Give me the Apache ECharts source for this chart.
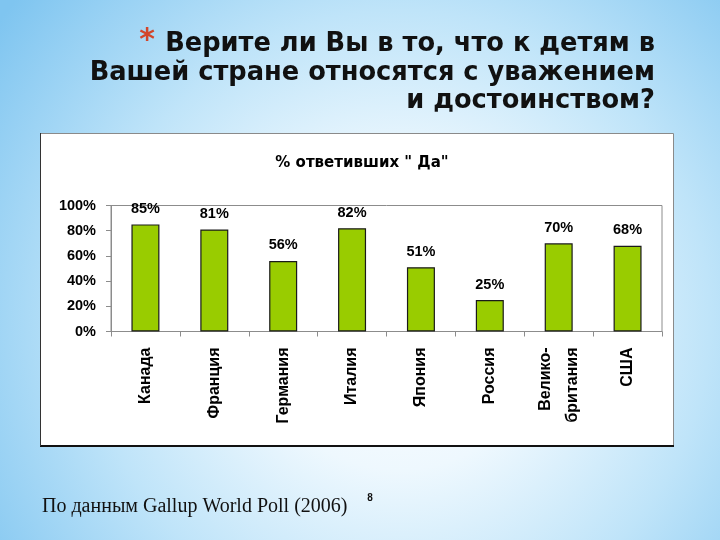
<!DOCTYPE html>
<html>
<head>
<meta charset="utf-8">
<script src="https://cdn.jsdelivr.net/npm/echarts@6/dist/echarts.min.js"></script>
<style>
html,body{margin:0;padding:0;background:#ffffff;}
#chart{width:720px;height:540px;}
</style>
</head>
<body>
<div id="chart"></div>
<script>
// ---- data ----
const categories = ['Канада', 'Франция', 'Германия', 'Италия', 'Япония', 'Россия', 'Велико-\nбритания', 'США'];
const values = [85, 81, 56, 82, 51, 25, 70, 68];
const yMin = 0;
const yMax = 100;
const yStep = 20;
const chartTitle = '% ответивших " Да"';
const pageTitle = 'Верите ли Вы в то, что к детям в\nВашей стране относятся с уважением\nи достоинством?';
const footerText = 'По данным Gallup World Poll (2006)';
const slideNumber = '8';

const chart = echarts.init(document.getElementById('chart'), null, {renderer: 'canvas'});

const option = {
  animation: false,
  backgroundColor: 'transparent',
  graphic: {
    elements: [
      {
        type: 'rect', z: -100, silent: true,
        shape: {x: 0, y: 0, width: 720, height: 540},
        style: {
          fill: new echarts.graphic.RadialGradient(400, 320, 500, [
            {offset: 0, color: '#ffffff'},
            {offset: 0.3, color: '#eef8fe'},
            {offset: 0.62, color: '#bfe4f9'},
            {offset: 1, color: '#7fc5f0'}
          ], true)
        }
      },
      {
        type: 'rect', z: -90, silent: true,
        shape: {x: 40.5, y: 133.5, width: 633, height: 312},
        style: {fill: '#ffffff', stroke: '#8a8a8a', lineWidth: 1}
      },
      {
        type: 'line', z: -89, silent: true,
        shape: {x1: 40, y1: 446, x2: 674, y2: 446},
        style: {stroke: '#111111', lineWidth: 2}
      },
      {
        type: 'line', z: -89, silent: true,
        shape: {x1: 40.5, y1: 133, x2: 40.5, y2: 446},
        style: {stroke: '#333333', lineWidth: 1}
      },
      {
        type: 'text', z: 50, silent: true,
        style: {
          text: pageTitle, x: 655, y: 73,
          align: 'right', verticalAlign: 'middle',
          fontFamily: 'DejaVu Sans', fontWeight: 'bold', fontSize: 25.7,
          lineHeight: 28.5, fill: '#111111'
        }
      },
      {
        type: 'text', z: 50, silent: true,
        style: {
          text: '*', x: 147, y: 41,
          align: 'center', verticalAlign: 'middle',
          fontFamily: 'DejaVu Sans', fontWeight: 'bold', fontSize: 30,
          fill: '#d2452a'
        }
      },
      {
        type: 'text', z: 50, silent: true,
        style: {
          text: footerText, x: 42, y: 507,
          align: 'left', verticalAlign: 'middle',
          fontFamily: 'Liberation Serif', fontSize: 20, fill: '#111111'
        }
      },
      {
        type: 'text', z: 50, silent: true,
        style: {
          text: slideNumber, x: 370, y: 498,
          align: 'center', verticalAlign: 'middle',
          fontFamily: 'Liberation Sans', fontWeight: 'bold', fontSize: 10, fill: '#111111'
        }
      }
    ]
  },
  title: {
    text: chartTitle,
    left: 357, top: 158,
    textAlign: 'center', textVerticalAlign: 'middle',
    textStyle: {fontFamily: 'DejaVu Sans', fontWeight: 'bold', fontSize: 15, color: '#000000'}
  },
  grid: {
    left: 111, right: 58, top: 205.5, bottom: 208.5,
    show: true, borderColor: '#8c8c8c', borderWidth: 1, backgroundColor: 'transparent',
    containLabel: false
  },
  xAxis: {
    type: 'category',
    data: categories,
    axisLine: {show: true, lineStyle: {color: '#8c8c8c', width: 1}},
    axisTick: {show: true, length: 5, alignWithLabel: false, lineStyle: {color: '#8c8c8c'}},
    axisLabel: {
      rotate: 90, interval: 0, margin: 16,
      fontFamily: 'Liberation Sans', fontWeight: 'bold', fontSize: 16,
      lineHeight: 27, color: '#000000'
    },
    splitLine: {show: false}
  },
  yAxis: {
    type: 'value',
    min: yMin, max: yMax, interval: yStep,
    axisLine: {show: true, lineStyle: {color: '#8c8c8c', width: 1}},
    axisTick: {show: true, length: 5, lineStyle: {color: '#8c8c8c'}},
    axisLabel: {
      formatter: '{value}%', margin: 15,
      fontFamily: 'Liberation Sans', fontWeight: 'bold', fontSize: 14.5, color: '#000000'
    },
    splitLine: {show: false}
  },
  series: [{
    type: 'bar',
    data: values,
    barWidth: 28,
    itemStyle: {color: '#99cc00', borderColor: '#1a1a1a', borderWidth: 1.2},
    label: {
      show: true, position: 'top', distance: 8,
      formatter: '{c}%',
      fontFamily: 'Liberation Sans', fontWeight: 'bold', fontSize: 14.5, color: '#000000'
    }
  }]
};

chart.setOption(option);
</script>
</body>
</html>
